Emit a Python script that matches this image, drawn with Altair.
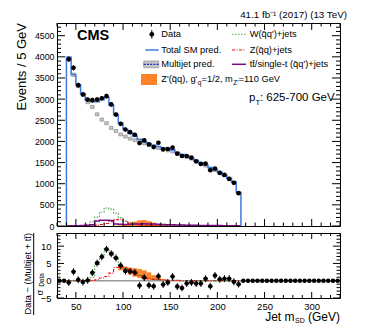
import altair as alt
import pandas as pd

FONT = "Liberation Sans"

# ---------------- data ----------------
bin_lo = list(range(40, 225, 5))  # 37 bins, 5 GeV wide
data_vals = [3940, 3740, 3330, 3110, 2990, 2975, 2990, 3020, 3070, 2875,
             2635, 2416, 2282, 2219, 2157, 1961, 2024, 1929, 1867, 1969,
             1812, 1820, 1851, 1710, 1655, 1655, 1616, 1529, 1467, 1475,
             1318, 1357, 1255, 1208, 1114, 1020, 776]
data_err = [63, 61, 58, 56, 55, 55, 55, 55, 55, 54, 51, 49, 48, 47, 46, 44, 45, 44, 43,
            44, 43, 43, 43, 41, 41, 41, 40, 39, 38, 38, 36, 37, 35, 35, 33, 32, 28]
total_sm = [3990, 3580, 3340, 3130, 2975, 2935, 2935, 2985, 3045, 2860,
            2630, 2430, 2280, 2190, 2130, 2050, 2000, 1950, 1910, 1880,
            1845, 1820, 1795, 1740, 1690, 1650, 1610, 1550, 1490, 1440,
            1380, 1330, 1270, 1205, 1130, 1040, 790]
multijet = [3965, 3575, 3310, 3115, 2930, 2815, 2640, 2515, 2430, 2320,
            2245, 2165, 2115, 2065, 2030, 1985, 1955, 1915, 1875, 1845,
            1805, 1785, 1762, 1712, 1665, 1628, 1590, 1532, 1474, 1426,
            1368, 1320, 1262, 1196, 1122, 1034, 784]
multijet_err = [42, 40, 40, 38, 38, 38, 37, 37, 36, 36, 36, 35, 35, 35, 35, 34, 34, 34, 34,
                34, 33, 33, 33, 33, 32, 32, 32, 31, 31, 31, 30, 30, 30, 29, 29, 28, 26]
w_jets = [3, 4, 6, 12, 40, 100, 210, 330, 425, 400, 300, 200, 110, 75, 55, 45, 38, 33, 30,
          27, 25, 23, 21, 19, 17, 16, 15, 14, 13, 12, 11, 10, 9, 8, 7, 6, 5]
z_jets = [1, 1, 2, 3, 5, 8, 15, 35, 60, 110, 150, 160, 120, 75, 45, 25, 18, 14, 12,
          10, 9, 8, 7, 6, 6, 5, 5, 4, 4, 4, 3, 3, 3, 2, 2, 2, 2]
tt_jets = [5, 6, 8, 10, 15, 30, 120, 135, 135, 130, 45, 40, 38, 40, 45, 50, 52, 50, 45,
           40, 36, 32, 28, 25, 22, 20, 18, 16, 14, 12, 11, 10, 9, 8, 7, 6, 5]
zp_lo = list(range(90, 150, 5))
zp_vals = [5, 15, 40, 75, 105, 135, 140, 115, 80, 45, 20, 8]

pull_centers = [32.5 + 5 * i for i in range(60)]
pulls = [0, 0, -0.5, 2.6, 0.3, -0.4, 0.1, 2.3, 5.1, 6.9, 9.1, 7.8, 6.6, 4.4, 2.8, 2.7, 2.4,
         -1.4, 0.9, -1.3, -1.6, 1.3, -1.1, -0.5, 1.2, -1.7, -2.1, -0.8, -0.5, -0.8, -0.8,
         0.6, -1.6, 1.5, 0.4, 0.6, 0.6, -0.3, -1.0] + [0] * 21
pull_err = [0, 0] + [1] * 37 + [0] * 21
ratio_wz = [0, 0, 0, 0, 0.2, 1.0, 4.7, 6.8, 9.2, 8.2, 6.5, 4.5, 3.5, 2.8, 2.2, 1.5, 1.0,
            0.7, 0.5, 0.3, 0.2, 0.1, 0.1, 0.1, 0, 0, 0, 0, 0, 0, 0, 0, 0, 0, 0, 0, 0]
ratio_z = [0, 0, 0, 0, 0, 0.1, 0.3, 0.8, 1.2, 2.2, 3.8, 4.1, 3.9, 3.2, 2.3, 1.5, 0.9, 0.6,
           0.4, 0.3, 0.2, 0.1, 0.1, 0.1, 0, 0, 0, 0, 0, 0, 0, 0, 0, 0, 0, 0, 0]
band_lo_edges = list(range(95, 145, 5))
band_low = [3.0, 2.5, 1.8, 1.2, 0.8, 0.5, 0.3, 0.1, 0.0, 0.0]
band_high = [4.2, 4.0, 3.8, 3.6, 3.4, 3.0, 2.4, 1.6, 1.0, 0.5]

y_major_top = list(range(0, 5000, 500))[:10]
y_minor_top = [v for v in range(0, 4800, 100) if v % 500]
x_major = [50, 100, 150, 200, 250, 300]
x_minor = [v for v in range(30, 331, 10) if v % 50]
y_major_bot = [-5, 0, 5, 10]
y_minor_bot = [v for v in range(-4, 14) if v % 5]
zero_line = [0]

W, H, H2 = 283, 203, 65
C_BLUE = "#3f78de"
C_GREEN = "#4aa84a"
C_RED = "#f01010"
C_PURPLE = "#7a0a85"
C_ORANGE = "#ff6c00"
C_MJ_FILL = "#c6c6c6"
C_MJ_EDGE = "#8e8e8e"

xsc = alt.Scale(domain=[30, 330], nice=False, zero=False)
ysc_top = alt.Scale(domain=[0, 4800], nice=False, zero=False)
ysc_bot = alt.Scale(domain=[-5, 13.8], nice=False, zero=False)

ax_x_top = None
ax_y_top = alt.Axis(values=y_major_top, format="d", ticks=False, domain=False, grid=False,
                    title=None, labelFontSize=8.8, labelPadding=3, labelFont=FONT,
                    labelColor="black")
ax_x_bot = alt.Axis(values=x_major, format="d", ticks=False, domain=False, grid=False, title=None,
                    labelFontSize=9.5, labelPadding=3, labelFont=FONT, labelColor="black")
ax_y_bot = alt.Axis(values=y_major_bot, format="d", ticks=False, domain=False, grid=False,
                    title=None, labelFontSize=9.5, labelPadding=6, labelFont=FONT,
                    labelColor="black")


def step_df(lo, vals, close=False):
    xs, ys = [], []
    if close:
        xs.append(lo[0]); ys.append(0)
    for a, v in zip(lo, vals):
        xs += [a, a + 5]; ys += [v, v]
    if close:
        xs.append(lo[-1] + 5); ys.append(0)
    return pd.DataFrame({"x": xs, "y": ys, "o": list(range(len(xs)))})


def X(f, top=True):
    return alt.X(f, type="quantitative", scale=xsc, axis=ax_x_top if top else ax_x_bot)


def Y(f, top=True):
    return alt.Y(f, type="quantitative", scale=ysc_top if top else ysc_bot,
                 axis=ax_y_top if top else ax_y_bot)


def X2(f):
    return alt.X2(f)


def Y2(f):
    return alt.Y2(f)


def line(df, color, top=True, dash=None, width=1.4):
    kw = dict(color=color, strokeWidth=width, clip=True)
    if dash:
        kw["strokeDash"] = dash
    return alt.Chart(df).mark_line(**kw).encode(x=X("x", top), y=Y("y", top), order="o:Q")


def one():
    return pd.DataFrame({"d": [0]})


def txt(text, x, y, size, align="left", baseline="middle", weight="normal", angle=0):
    kw = dict(align=align, baseline=baseline, fontSize=size, font=FONT, fontWeight=weight,
              color="black")
    if angle:
        kw["angle"] = angle
    return alt.Chart(pd.DataFrame({"t": [text]})).mark_text(**kw).encode(
        x=alt.value(x), y=alt.value(y), text="t:N")


def hrule(x1, x2, y, color, dash=None, width=1.4):
    kw = dict(color=color, strokeWidth=width)
    if dash:
        kw["strokeDash"] = dash
    return alt.Chart(one()).mark_rule(**kw).encode(x=alt.value(x1), x2=alt.value(x2), y=alt.value(y))


def ticks(vals, top, axis, length, width, height):
    df = pd.DataFrame({"v": vals})
    out = []
    if axis == "y":
        for a, b in [(0, length), (width, width - length)]:
            out.append(alt.Chart(df).mark_rule(color="black", strokeWidth=1).encode(
                y=Y("v", top), x=alt.value(a), x2=alt.value(b)))
    else:
        for a, b in [(height, height - length), (0, length)]:
            out.append(alt.Chart(df).mark_rule(color="black", strokeWidth=1).encode(
                x=X("v", top), y=alt.value(a), y2=alt.value(b)))
    return out


# ---------------- top panel ----------------
lo_hi = lambda lo: [a + 5 for a in lo]
df_zp = pd.DataFrame({"x": zp_lo, "x2": lo_hi(zp_lo), "y": [0] * len(zp_vals), "y2": zp_vals})
zp_layer = alt.Chart(df_zp).mark_rect(color=C_ORANGE, opacity=0.85, clip=True).encode(
    x=X("x"), x2=X2("x2"), y=Y("y"), y2=Y2("y2"))

df_mj = pd.DataFrame({"x": [a + 0.6 for a in bin_lo], "x2": [a + 4.4 for a in bin_lo],
                      "y": [m - e for m, e in zip(multijet, multijet_err)],
                      "y2": [m + e for m, e in zip(multijet, multijet_err)]})
mj_layer = alt.Chart(df_mj).mark_rect(fill=C_MJ_FILL, stroke=C_MJ_EDGE, strokeWidth=0.7,
                                      clip=True).encode(x=X("x"), x2=X2("x2"), y=Y("y"), y2=Y2("y2"))

w_layer = line(step_df(bin_lo, w_jets), C_GREEN, dash=[1.5, 1.5], width=1.1)
z_layer = line(step_df(bin_lo, z_jets), C_RED, dash=[3, 1.5, 1, 1.5], width=1.1)
tt_layer = line(step_df(bin_lo, tt_jets), C_PURPLE, width=1.5)
tot_layer = line(step_df(bin_lo, total_sm, close=True), C_BLUE, width=1.5)

centers = [a + 2.5 for a in bin_lo]
df_data = pd.DataFrame({"x": centers, "y": data_vals,
                        "lo": [v - e for v, e in zip(data_vals, data_err)],
                        "hi": [v + e for v, e in zip(data_vals, data_err)]})
data_err_layer = alt.Chart(df_data).mark_rule(color="black", strokeWidth=1).encode(
    x=X("x"), y=Y("lo"), y2=Y2("hi"))
data_pt_layer = alt.Chart(df_data).mark_point(filled=True, shape="circle", size=22, color="black",
                                               opacity=1).encode(x=X("x"), y=Y("y"))

top_ticks = (ticks(y_major_top, True, "y", 8, W, H) + ticks(y_minor_top, True, "y", 4, W, H)
             + ticks(x_major, True, "x", 7, W, H) + ticks(x_minor, True, "x", 3.5, W, H))

LS = 9.3
lx1, lx2, ltx = 88.3, 101.7, 104.3
rx1, rx2, rtx = 175, 189, 192.7
rows = [11.3, 27, 41.3, 56.3]
legend = [
    alt.Chart(one()).mark_rule(color="black", strokeWidth=1).encode(
        x=alt.value(94.8), y=alt.value(7), y2=alt.value(15.6)),
    alt.Chart(one()).mark_point(filled=True, shape="circle", size=22, color="black", opacity=1).encode(
        x=alt.value(94.8), y=alt.value(rows[0])),
    txt("Data", ltx, rows[0], LS),
    hrule(lx1, lx2, rows[1], C_BLUE, width=1.5),
    txt("Total SM pred.", ltx, rows[1], LS),
    alt.Chart(one()).mark_rect(fill=C_MJ_FILL, stroke=C_MJ_EDGE, strokeWidth=0.7).encode(
        x=alt.value(86.7), x2=alt.value(101.7), y=alt.value(38), y2=alt.value(44.7)),
    hrule(86.7, 101.7, rows[2], "#1d2fd0", dash=[2, 1.2], width=1.3),
    txt("Multijet pred.", ltx, rows[2], LS),
    alt.Chart(one()).mark_rect(fill=C_ORANGE, opacity=0.85).encode(
        x=alt.value(84), x2=alt.value(100), y=alt.value(51), y2=alt.value(62)),
    txt("Z'(q\u0304q), g'", ltx, rows[3], LS),
    txt("q", 140.8, rows[3] + 3.5, 6.5),
    txt("=1/2, m", 144.6, rows[3], LS),
    txt("Z'", 176.2, rows[3] + 3.5, 6.5),
    txt("=110 GeV", 181.6, rows[3], LS),
    hrule(rx1, rx2, rows[0], C_GREEN, dash=[1.5, 1.5], width=1.1),
    txt("W(q\u0304q')+jets", rtx, rows[0], LS),
    hrule(rx1, rx2, rows[1], C_RED, dash=[3, 1.5, 1, 1.5], width=1.1),
    txt("Z(q\u0304q)+jets", rtx, rows[1], LS),
    hrule(rx1, rx2, rows[2], C_PURPLE, width=1.5),
    txt("tt\u0304/single-t (q\u0304q')+jets", rtx, rows[2], LS),
    txt("CMS", 20, 13.2, 14.5, weight="bold"),
    txt("p", 192, 75, 11.5),
    txt("T", 198.6, 80, 7.5),
    txt(": 625-700 GeV", 277.7, 75, 11.5, align="right"),
    txt("41.1 fb\u207b\u00b9 (2017) (13 TeV)", 290, -8.3, 9.8, align="right"),
    txt("Events / 5 GeV", -35, 0, 13, align="right", angle=270),
]

top = alt.layer(zp_layer, mj_layer, w_layer, z_layer, tt_layer, tot_layer,
                data_err_layer, data_pt_layer, *top_ticks, *legend).properties(width=W, height=H)

# ---------------- bottom panel ----------------
df_band = pd.DataFrame({"x": band_lo_edges, "x2": lo_hi(band_lo_edges), "y": band_low, "y2": band_high})
band_layer = alt.Chart(df_band).mark_rect(color=C_ORANGE, opacity=0.85, clip=True).encode(
    x=X("x", False), x2=X2("x2"), y=Y("y", False), y2=Y2("y2"))
zero_layer = alt.Chart(pd.DataFrame({"y": zero_line})).mark_rule(color="#9a9a9a", strokeWidth=1.5).encode(
    y=Y("y", False), x=alt.value(0), x2=alt.value(W))
rwz_layer = line(step_df(bin_lo, ratio_wz), C_GREEN, top=False, dash=[1.5, 1.5], width=1.1)
rz_layer = line(step_df(bin_lo, ratio_z), C_RED, top=False, dash=[3, 1.5, 1, 1.5], width=1.1)

df_pull = pd.DataFrame({"x": pull_centers, "y": pulls,
                        "lo": [p - e for p, e in zip(pulls, pull_err)],
                        "hi": [p + e for p, e in zip(pulls, pull_err)],
                        "xl": [c - 2.5 for c in pull_centers], "xh": [c + 2.5 for c in pull_centers]})
pull_v = alt.Chart(df_pull).mark_rule(color="black", strokeWidth=1).encode(
    x=X("x", False), y=Y("lo", False), y2=Y2("hi"))
pull_h = alt.Chart(df_pull).mark_rule(color="black", strokeWidth=1).encode(
    x=X("xl", False), x2=X2("xh"), y=Y("y", False))
pull_pt = alt.Chart(df_pull).mark_point(filled=True, shape="circle", size=20, color="black",
                                         opacity=1).encode(x=X("x", False), y=Y("y", False))

bot_ticks = (ticks(y_major_bot, False, "y", 7, W, H2) + ticks(y_minor_bot, False, "y", 3.5, W, H2)
             + ticks(x_major, False, "x", 6, W, H2) + ticks(x_minor, False, "x", 3, W, H2))

bot_text = [
    txt("Data \u2212 (Multijet + tt\u0304)", -29, 40.8, 9.3, align="center", angle=270),
    alt.Chart(one()).mark_rule(color="black", strokeWidth=1).encode(
        x=alt.value(-23.3), y=alt.value(0), y2=alt.value(82)),
    txt("\u03c3", -17.5, 59.5, 9.3, align="center", angle=270),
    txt("Data", -15, 47, 6.5, align="center", angle=270),
    txt("Jet m", 237.5, 84, 12, align="right"),
    txt("SD", 238, 88, 7),
    txt("(GeV)", 283, 84, 12, align="right"),
]

bottom = alt.layer(band_layer, zero_layer, rwz_layer, rz_layer, pull_v, pull_h, pull_pt,
                   *bot_ticks, *bot_text).properties(width=W, height=H2)

chart = alt.vconcat(top, bottom, spacing=0).properties(
    padding={"left": 7, "top": 1, "right": 5, "bottom": 2}
).configure(font=FONT).configure_view(stroke="black", strokeWidth=1)

chart.save("out.html", embed_options={"renderer": "svg", "actions": False})
